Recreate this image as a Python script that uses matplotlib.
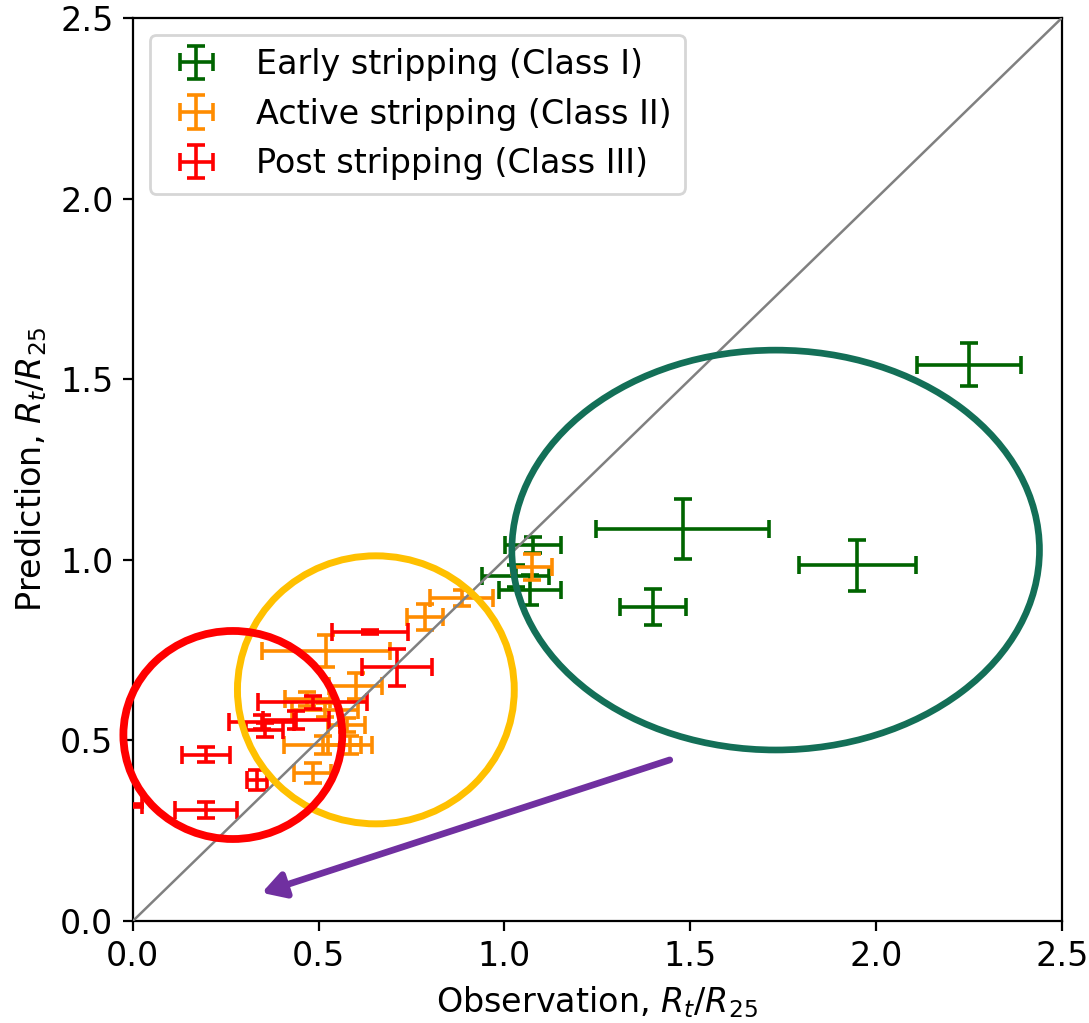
import matplotlib
matplotlib.use("Agg")
import matplotlib.pyplot as plt
from matplotlib.patches import Ellipse, FancyArrowPatch

# Class I: early stripping
early_obs = [2.25, 1.48, 1.95, 1.40, 1.076, 1.03, 1.068]
early_pred = [1.54, 1.085, 0.985, 0.87, 1.041, 0.955, 0.916]
early_obs_err = [0.14, 0.233, 0.157, 0.09, 0.075, 0.09, 0.083]
early_pred_err = [0.06, 0.083, 0.07, 0.05, 0.022, 0.03, 0.042]

# Class II: active stripping
active_obs = [1.074, 0.885, 0.786, 0.519, 0.60, 0.47, 0.517, 0.576, 0.511, 0.584, 0.484]
active_pred = [0.98, 0.894, 0.842, 0.747, 0.65, 0.615, 0.584, 0.543, 0.487, 0.487, 0.41]
active_obs_err = [0.054, 0.085, 0.048, 0.172, 0.071, 0.06, 0.09, 0.05, 0.104, 0.06, 0.05]
active_pred_err = [0.035, 0.023, 0.035, 0.044, 0.036, 0.02, 0.02, 0.02, 0.025, 0.025, 0.028]

# Class III: post stripping
post_obs = [0.638, 0.71, 0.484, 0.347, 0.439, 0.355, 0.196, 0.334, 0.196, 0.005]
post_pred = [0.80, 0.703, 0.606, 0.551, 0.556, 0.529, 0.46, 0.39, 0.307, 0.32]
post_obs_err = [0.102, 0.094, 0.147, 0.088, 0.09, 0.05, 0.065, 0.027, 0.083, 0.02]
post_pred_err = [0.005, 0.051, 0.018, 0.02, 0.025, 0.02, 0.021, 0.028, 0.022, 0.004]

plt.rcParams["font.family"] = "DejaVu Sans"
plt.rcParams["font.size"] = 12

fig = plt.figure(figsize=(5.445, 5.115), dpi=200)
ax = fig.add_axes([0.122, 0.0997, 0.853, 0.8827])

eb_kw = dict(fmt="none", elinewidth=1.3, capsize=3.3, capthick=1.3)
ax.errorbar(early_obs, early_pred, xerr=early_obs_err, yerr=early_pred_err,
            ecolor="darkgreen", label="Early stripping (Class I)", zorder=3, **eb_kw)
ax.errorbar(active_obs, active_pred, xerr=active_obs_err, yerr=active_pred_err,
            ecolor="darkorange", label="Active stripping (Class II)", zorder=3, **eb_kw)
ax.errorbar(post_obs, post_pred, xerr=post_obs_err, yerr=post_pred_err,
            ecolor="red", label="Post stripping (Class III)", zorder=3, **eb_kw)

# one-to-one reference line
ax.plot([0, 2.5], [0, 2.5], color="grey", lw=0.9, zorder=4)

# group outlines
ax.add_patch(Ellipse((1.73, 1.027), 1.42, 1.107, fill=False,
                     edgecolor="#136F57", lw=2.4, zorder=5, clip_on=False))
ax.add_patch(Ellipse((0.654, 0.64), 0.745, 0.742, fill=False,
                     edgecolor="#FFC000", lw=2.5, zorder=5, clip_on=False))
ax.add_patch(Ellipse((0.269, 0.515), 0.589, 0.576, fill=False,
                     edgecolor="red", lw=2.8, zorder=6, clip_on=False))

# evolutionary direction
ax.add_patch(FancyArrowPatch((1.445, 0.446), (0.347, 0.078),
                             arrowstyle="-|>,head_length=4.5,head_width=2.6",
                             mutation_scale=1.5, color="#7030A0", lw=2.4,
                             shrinkA=0, shrinkB=0, zorder=7))

ax.set_xlim(0, 2.5)
ax.set_ylim(0, 2.5)
ax.set_xticks([0.0, 0.5, 1.0, 1.5, 2.0, 2.5])
ax.set_yticks([0.0, 0.5, 1.0, 1.5, 2.0, 2.5])
ax.set_xlabel(r"Observation, $R_t/R_{25}$")
ax.set_ylabel(r"Prediction, $R_t/R_{25}$")

ax.legend(loc="upper left", fontsize=12)

fig.savefig("out.png", dpi=200)
